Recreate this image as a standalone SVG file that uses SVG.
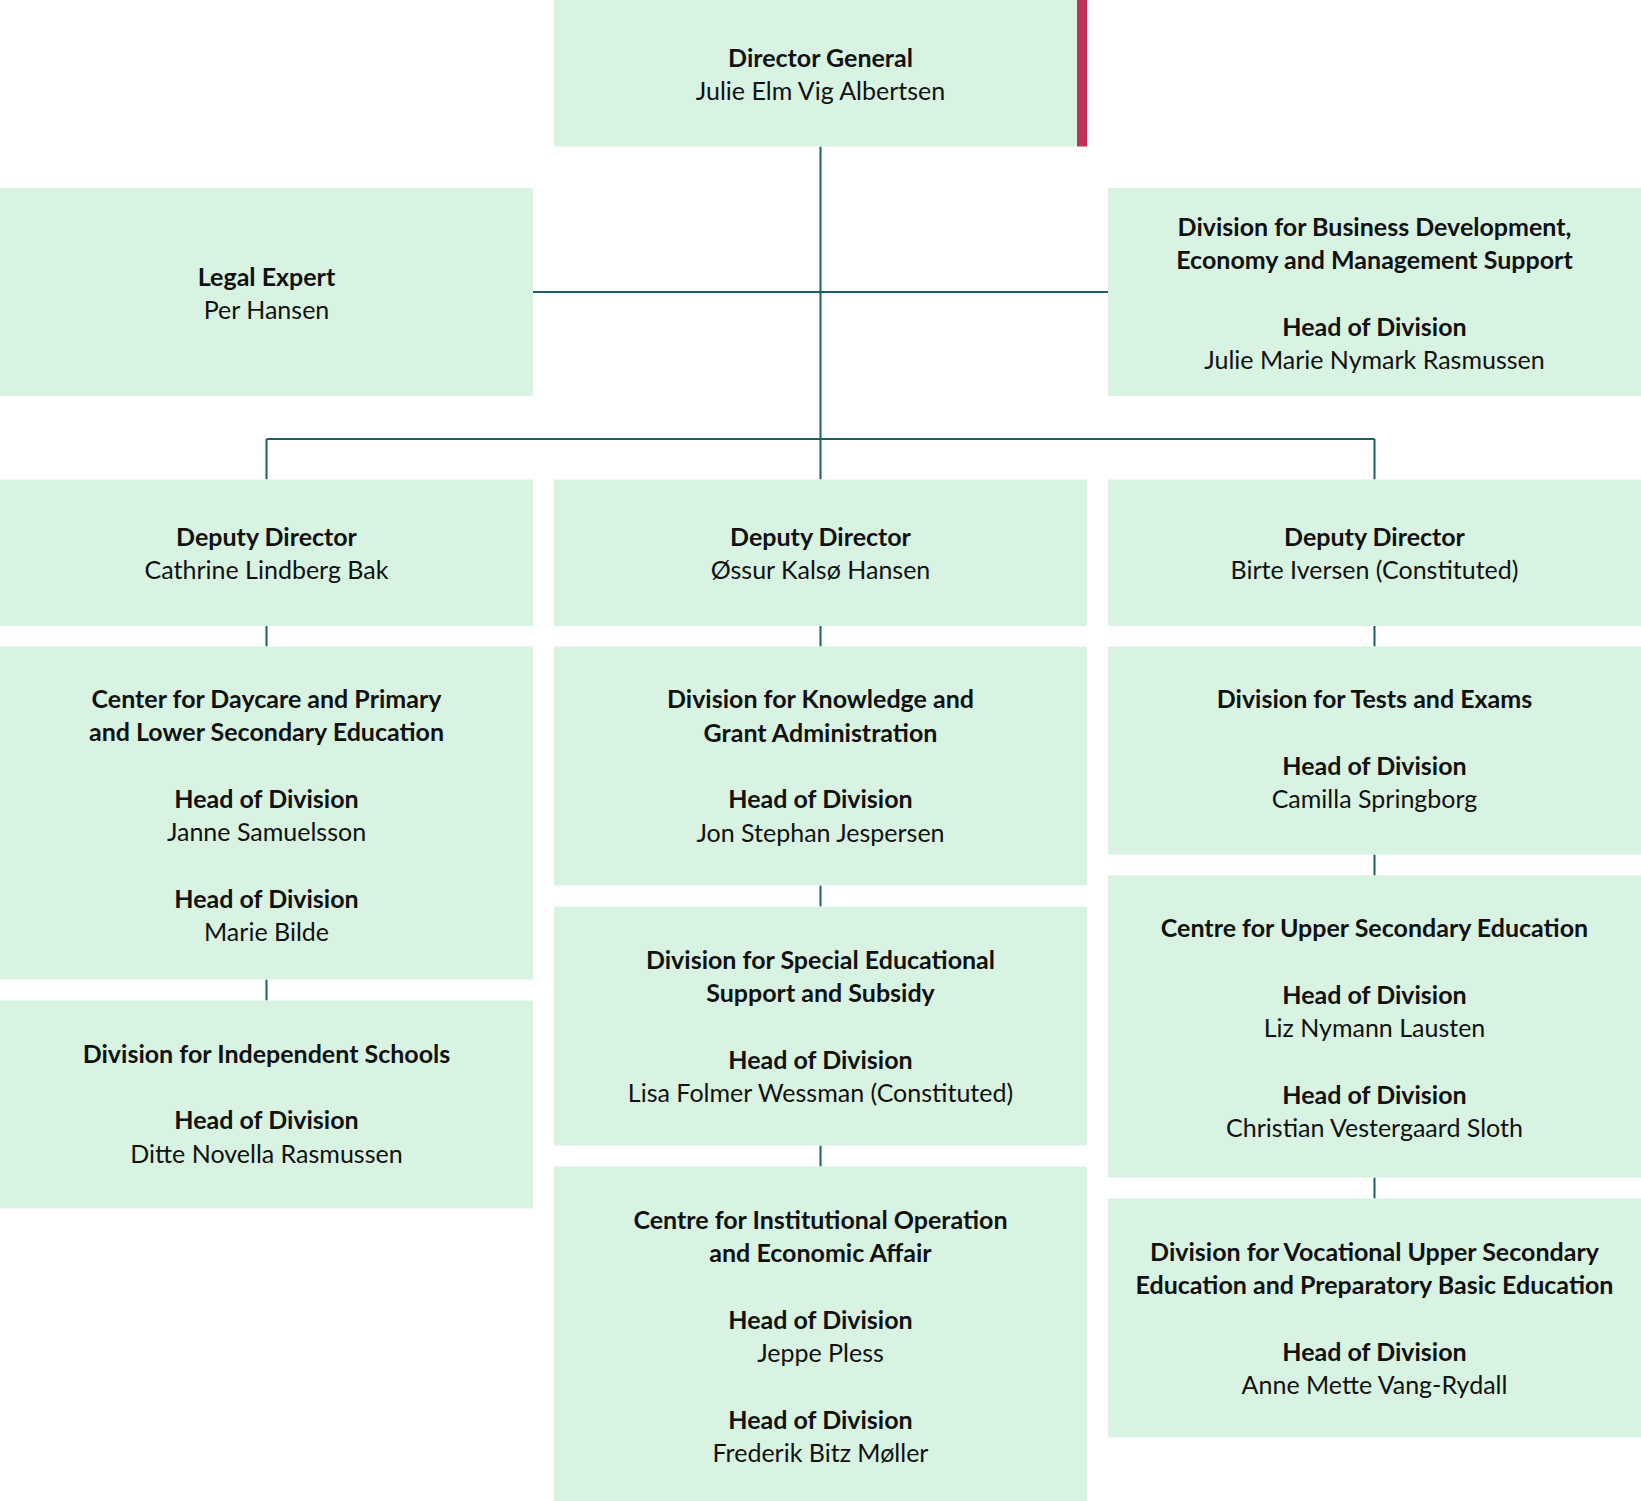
<svg xmlns="http://www.w3.org/2000/svg" width="1641" height="1501" viewBox="0 0 1641 1501">
<style>
.box{fill:#d8f3e2}
.accent{fill:#c13259}
.con{stroke:#1d5f66;stroke-width:2;fill:none}
text{font-family:Lato,"Noto Sans","Liberation Sans",sans-serif;font-size:25px;font-weight:normal;fill:#111;text-anchor:middle}
.b{font-weight:bold}
</style>
<rect width="1641" height="1501" fill="#fff"/>
<g id="connectors">
<path class="con" d="M820.5 146.5V479.5M533 292H1108M266.5 439H1374.5M266.5 439V479.5M1374.5 439V479.5"/>
<path class="con" d="M266.5 626V646.5M266.5 979.5V1000.5M820.5 626V646.5M820.5 885.5V906.5M820.5 1145.5V1166.5M1374.5 626V646.5M1374.5 854.5V875.5M1374.5 1177.5V1198.5"/>
</g>
<g id="director-general">
<rect class="box" x="554" y="0" width="533" height="146.5"/>
<rect class="accent" x="1077" y="0" width="10" height="146.5"/>
<text class="b" x="820.5" y="66.6">Director General</text>
<text x="820.5" y="99.9">Julie Elm Vig Albertsen</text>
</g>
<g id="legal-expert">
<rect class="box" x="0" y="188" width="533" height="208"/>
<text class="b" x="266.5" y="285.9">Legal Expert</text>
<text x="266.5" y="319.2">Per Hansen</text>
</g>
<g id="business-development">
<rect class="box" x="1108" y="188" width="533" height="208"/>
<text class="b" x="1374.5" y="235.9">Division for Business Development,</text>
<text class="b" x="1374.5" y="269.2">Economy and Management Support</text>
<text class="b" x="1374.5" y="335.8">Head of Division</text>
<text x="1374.5" y="369.1">Julie Marie Nymark Rasmussen</text>
</g>
<g id="deputy-left">
<rect class="box" x="0" y="479.5" width="533" height="146.5"/>
<text class="b" x="266.5" y="545.6">Deputy Director</text>
<text x="266.5" y="578.9">Cathrine Lindberg Bak</text>
</g>
<g id="deputy-middle">
<rect class="box" x="554" y="479.5" width="533" height="146.5"/>
<text class="b" x="820.5" y="545.6">Deputy Director</text>
<text x="820.5" y="578.9">Øssur Kalsø Hansen</text>
</g>
<g id="deputy-right">
<rect class="box" x="1108" y="479.5" width="533" height="146.5"/>
<text class="b" x="1374.5" y="545.6">Deputy Director</text>
<text x="1374.5" y="578.9">Birte Iversen (Constituted)</text>
</g>
<g id="daycare-primary">
<rect class="box" x="0" y="646.5" width="533" height="333"/>
<text class="b" x="266.5" y="708">Center for Daycare and Primary</text>
<text class="b" x="266.5" y="741.3">and Lower Secondary Education</text>
<text class="b" x="266.5" y="807.9">Head of Division</text>
<text x="266.5" y="841.2">Janne Samuelsson</text>
<text class="b" x="266.5" y="907.8">Head of Division</text>
<text x="266.5" y="941.1">Marie Bilde</text>
</g>
<g id="independent-schools">
<rect class="box" x="0" y="1000.5" width="533" height="208"/>
<text class="b" x="266.5" y="1062.6">Division for Independent Schools</text>
<text class="b" x="266.5" y="1129.2">Head of Division</text>
<text x="266.5" y="1162.5">Ditte Novella Rasmussen</text>
</g>
<g id="knowledge-grant">
<rect class="box" x="554" y="646.5" width="533" height="239"/>
<text class="b" x="820.5" y="708.4">Division for Knowledge and</text>
<text class="b" x="820.5" y="741.7">Grant Administration</text>
<text class="b" x="820.5" y="808.3">Head of Division</text>
<text x="820.5" y="841.6">Jon Stephan Jespersen</text>
</g>
<g id="special-educational">
<rect class="box" x="554" y="906.5" width="533" height="239"/>
<text class="b" x="820.5" y="968.9">Division for Special Educational</text>
<text class="b" x="820.5" y="1002.2">Support and Subsidy</text>
<text class="b" x="820.5" y="1068.8">Head of Division</text>
<text x="820.5" y="1102.1">Lisa Folmer Wessman (Constituted)</text>
</g>
<g id="institutional-operation">
<rect class="box" x="554" y="1166.5" width="533" height="334.5"/>
<text class="b" x="820.5" y="1229">Centre for Institutional Operation</text>
<text class="b" x="820.5" y="1262.3">and Economic Affair</text>
<text class="b" x="820.5" y="1328.9">Head of Division</text>
<text x="820.5" y="1362.2">Jeppe Pless</text>
<text class="b" x="820.5" y="1428.8">Head of Division</text>
<text x="820.5" y="1462.1">Frederik Bitz Møller</text>
</g>
<g id="tests-exams">
<rect class="box" x="1108" y="646.5" width="533" height="208"/>
<text class="b" x="1374.5" y="708">Division for Tests and Exams</text>
<text class="b" x="1374.5" y="774.7">Head of Division</text>
<text x="1374.5" y="808">Camilla Springborg</text>
</g>
<g id="upper-secondary">
<rect class="box" x="1108" y="875.5" width="533" height="302"/>
<text class="b" x="1374.5" y="937.1">Centre for Upper Secondary Education</text>
<text class="b" x="1374.5" y="1003.7">Head of Division</text>
<text x="1374.5" y="1037">Liz Nymann Lausten</text>
<text class="b" x="1374.5" y="1103.6">Head of Division</text>
<text x="1374.5" y="1136.9">Christian Vestergaard Sloth</text>
</g>
<g id="vocational-upper-secondary">
<rect class="box" x="1108" y="1198.5" width="533" height="239"/>
<text class="b" x="1374.5" y="1260.9">Division for Vocational Upper Secondary</text>
<text class="b" x="1374.5" y="1294.2">Education and Preparatory Basic Education</text>
<text class="b" x="1374.5" y="1360.8">Head of Division</text>
<text x="1374.5" y="1394.1">Anne Mette Vang-Rydall</text>
</g>
</svg>
